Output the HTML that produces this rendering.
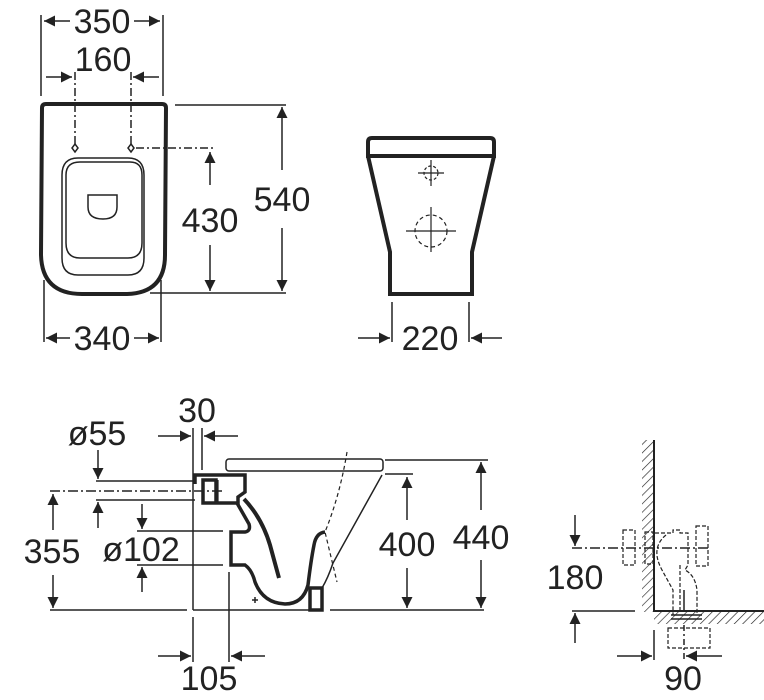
<!DOCTYPE html>
<html><head><meta charset="utf-8"><style>
html,body{margin:0;padding:0;background:#fff;}
svg{display:block;}
text{font-family:"Liberation Sans",sans-serif;fill:#222;}
</style></head><body>
<svg width="764" height="700" viewBox="0 0 764 700" xmlns="http://www.w3.org/2000/svg">
<defs>
<marker id="a" viewBox="0 0 10 10" refX="10" refY="5" markerWidth="17" markerHeight="11" markerUnits="userSpaceOnUse" orient="auto-start-reverse"><path d="M0,0 L10,5 L0,10 z" fill="#222"/></marker>
<pattern id="h" width="6" height="6" patternUnits="userSpaceOnUse" patternTransform="rotate(45)"><line x1="0" y1="0" x2="0" y2="6" stroke="#222" stroke-width="1.3"/></pattern>
</defs>
<g stroke="#222" fill="none" stroke-width="1.5">
<!-- TOP VIEW -->
<line x1="41" y1="15" x2="41" y2="96"/><line x1="163" y1="15" x2="163" y2="96"/>
<line x1="70" y1="21" x2="44" y2="21" marker-end="url(#a)"/><line x1="134" y1="21" x2="160" y2="21" marker-end="url(#a)"/>
<line x1="46" y1="77" x2="72" y2="77" marker-end="url(#a)"/><line x1="159" y1="77" x2="133" y2="77" marker-end="url(#a)"/>
<g stroke-dasharray="8,3,2,3"><line x1="75" y1="72" x2="75" y2="145"/><line x1="131" y1="72" x2="131" y2="145"/><line x1="136" y1="148" x2="215" y2="148"/></g>
<path d="M42,108 Q42,104 46,104 L162,104 Q166,104 166,108 L165,255 Q165,294 125,294 L82,294 Q42,294 41,255 Z" stroke-width="4"/>
<path d="M62,175 Q62,158 78,158 L128,158 Q144,158 144,175 L144,258 Q144,275 128,275 L78,275 Q62,275 62,258 Z"/>
<path d="M66,175 Q66,162 80,162 L130,162 Q142,162 142,175 L142,243 Q142,258 128,258 L80,258 Q66,258 66,243 Z"/>
<path d="M88,195 L117,195 L117,207 Q117,219 103,219 Q88,219 88,207 Z"/>
<path d="M75,144 l3,4 -3,4 -3,-4z M131,144 l3,4 -3,4 -3,-4z" stroke-width="1.5"/>
<line x1="175" y1="105" x2="286" y2="105"/><line x1="150" y1="293" x2="286" y2="293"/>
<line x1="161" y1="280" x2="161" y2="342"/><line x1="44" y1="280" x2="44" y2="342"/>
<line x1="210" y1="185" x2="210" y2="152" marker-end="url(#a)"/><line x1="210" y1="245" x2="210" y2="291" marker-end="url(#a)"/>
<line x1="282" y1="170" x2="282" y2="107" marker-end="url(#a)"/><line x1="282" y1="228" x2="282" y2="291" marker-end="url(#a)"/>
<line x1="70" y1="338" x2="46" y2="338" marker-end="url(#a)"/><line x1="134" y1="338" x2="159" y2="338" marker-end="url(#a)"/>
<!-- FRONT VIEW -->
<path d="M368,142 Q368,138 372,138 L490,138 Q494,138 494,142 L494,156 L368,156 Z" stroke-width="4"/>
<line x1="370" y1="155" x2="492" y2="155"/>
<path d="M368,156 L390,252 L390,294 L472,294 L472,252 L494,156" stroke-width="4"/>
<g stroke-width="1.2"><line x1="418" y1="173" x2="444" y2="173"/><line x1="431" y1="160" x2="431" y2="186"/><circle cx="431" cy="173" r="7" stroke-dasharray="3,2"/>
<line x1="406" y1="231" x2="456" y2="231"/><line x1="431" y1="207" x2="431" y2="252"/><circle cx="431" cy="231" r="16" stroke-dasharray="4,3"/></g>
<line x1="392" y1="302" x2="392" y2="342"/><line x1="469" y1="302" x2="469" y2="342"/>
<line x1="358" y1="338" x2="390" y2="338" marker-end="url(#a)"/><line x1="502" y1="338" x2="471" y2="338" marker-end="url(#a)"/>
<!-- SIDE VIEW -->
<line x1="193" y1="428" x2="193" y2="500"/><line x1="202" y1="428" x2="202" y2="470"/>
<line x1="158" y1="436" x2="191" y2="436" marker-end="url(#a)"/><line x1="238" y1="436" x2="204" y2="436" marker-end="url(#a)"/>
<rect x="226" y="459" width="157" height="12" rx="3"/>
<line x1="96" y1="481" x2="195" y2="481"/><line x1="96" y1="500" x2="195" y2="500"/>
<line x1="50" y1="491" x2="225" y2="491" stroke-dasharray="10,3,2,3"/>
<line x1="98" y1="450" x2="98" y2="479" marker-end="url(#a)"/><line x1="98" y1="528" x2="98" y2="502" marker-end="url(#a)"/>
<line x1="53" y1="530" x2="53" y2="494" marker-end="url(#a)"/><line x1="53" y1="575" x2="53" y2="608" marker-end="url(#a)"/>
<line x1="137" y1="531" x2="223" y2="531"/><line x1="137" y1="565" x2="223" y2="565"/>
<line x1="142" y1="504" x2="142" y2="529" marker-end="url(#a)"/><line x1="142" y1="592" x2="142" y2="567" marker-end="url(#a)"/>
<line x1="193" y1="500" x2="193" y2="610"/>
<line x1="50" y1="610" x2="187" y2="610"/><line x1="193" y1="610" x2="310" y2="610"/><line x1="330" y1="610" x2="484" y2="610"/>
<line x1="193" y1="617" x2="193" y2="662"/><line x1="229" y1="572" x2="229" y2="662"/>
<line x1="158" y1="656" x2="191" y2="656" marker-end="url(#a)"/><line x1="265" y1="656" x2="231" y2="656" marker-end="url(#a)"/>
<!-- bowl -->
<path d="M195,484 L195,475 L245,475 L245,492 L238,497 L238,503 L203,503 L203,480 L216,480 L216,503" stroke-width="3.5"/>
<line x1="218" y1="480" x2="218" y2="503" stroke-width="1.2"/>
<path d="M237,503 L249,524 Q251,531 245,532 L231,532 L231,565 L245,565 Q252,570 255,582 Q263,603 285,604 Q303,604 308,585 Q311,560 314,545 Q316,533 325,532" stroke-width="3.5"/>
<path d="M244,499 Q262,518 270,545 L279,578" stroke-width="4"/>
<path d="M310,610 L310,588 L322,588 L322,610 Z" stroke-width="3.5"/>
<path d="M322,588 Q328,578 333,563 L382,475" stroke-width="1.5"/>
<path d="M347,452 Q340,495 325,532 L337,582" stroke-dasharray="4,3" stroke-width="1.2"/>
<line x1="252" y1="600" x2="258" y2="600"/><line x1="255" y1="597" x2="255" y2="603"/>
<line x1="385" y1="474" x2="413" y2="474"/><line x1="385" y1="460" x2="488" y2="460"/>
<line x1="407" y1="520" x2="407" y2="477" marker-end="url(#a)"/><line x1="407" y1="568" x2="407" y2="608" marker-end="url(#a)"/>
<line x1="481" y1="510" x2="481" y2="462" marker-end="url(#a)"/><line x1="481" y1="560" x2="481" y2="608" marker-end="url(#a)"/>
<!-- RIGHT DETAIL -->
<rect x="642" y="440" width="12" height="172" fill="url(#h)" stroke="none"/>
<rect x="654" y="612" width="110" height="12" fill="url(#h)" stroke="none"/>
<line x1="654" y1="440" x2="654" y2="612" stroke-width="2"/><line x1="654" y1="611" x2="764" y2="611" stroke-width="2"/>
<line x1="572" y1="548" x2="710" y2="548" stroke-dasharray="10,3,2,3"/>
<g stroke-dasharray="4,2" stroke-width="1.2">
<rect x="623" y="530" width="12" height="35"/><rect x="645" y="532" width="8" height="32"/>
<path d="M655,533 L673,533 L673,530 L680,530 L680,533 L688,533 L688,565 L685,570 Q695,575 697,590 L697,615"/>
<rect x="696" y="526" width="12" height="40"/>
<path d="M666,535 Q650,548 662,570 L673,590 L673,615 M680,565 L680,610"/>
<rect x="668" y="628" width="42" height="20"/>
</g>
<line x1="671" y1="615" x2="702" y2="615"/><line x1="671" y1="619" x2="702" y2="619"/>
<line x1="684" y1="590" x2="684" y2="612"/><line x1="684" y1="625" x2="684" y2="660" stroke-dasharray="6,3,2,3"/>
<line x1="575" y1="515" x2="575" y2="546" marker-end="url(#a)"/><line x1="575" y1="643" x2="575" y2="613" marker-end="url(#a)"/>
<line x1="572" y1="611" x2="635" y2="611"/>
<line x1="654" y1="630" x2="654" y2="660"/>
<line x1="617" y1="656" x2="652" y2="656" marker-end="url(#a)"/><line x1="722" y1="656" x2="686" y2="656" marker-end="url(#a)"/>
</g>
<g font-size="34" text-anchor="middle">
<text x="102" y="33">350</text><text x="103" y="71">160</text>
<text x="210" y="232">430</text><text x="282" y="211">540</text>
<text x="102" y="350">340</text><text x="430" y="350">220</text>
<text x="197" y="422">30</text><text x="97" y="445">ø55</text>
<text x="52" y="563">355</text><text x="141" y="561">ø102</text>
<text x="407" y="556">400</text><text x="481" y="549">440</text>
<text x="209" y="690">105</text>
<text x="575" y="589">180</text><text x="683" y="690">90</text>
</g>
</svg>
</body></html>
